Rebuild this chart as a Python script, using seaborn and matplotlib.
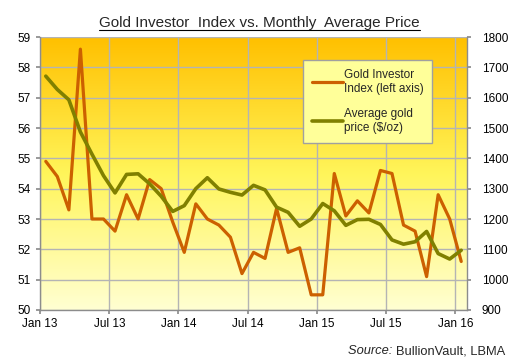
import numpy as np
import pandas as pd
import matplotlib
matplotlib.use("Agg")
import matplotlib.pyplot as plt
import seaborn as sns
from matplotlib.colors import LinearSegmentedColormap
from matplotlib.lines import Line2D

# Monthly data, Jan 2013 .. Jan 2016
investor_index = [54.9, 54.4, 53.3, 58.6, 53.0, 53.0, 52.6, 53.8, 53.0, 54.3, 54.0, 52.9,
                  51.9, 53.5, 53.0, 52.8, 52.4, 51.2, 51.9, 51.7, 53.35, 51.9, 52.05, 50.5,
                  50.5, 54.5, 53.1, 53.6, 53.2, 54.6, 54.5, 52.8, 52.6, 51.1, 53.8, 53.0, 51.6]
gold_price = [1671, 1627, 1593, 1487, 1414, 1343, 1286, 1347, 1349, 1316, 1275, 1225,
              1244, 1300, 1336, 1299, 1288, 1279, 1311, 1296, 1239, 1222, 1176, 1200,
              1251, 1227, 1179, 1198, 1199, 1182, 1131, 1117, 1125, 1159, 1086, 1068, 1097]
tick_labels = ["Jan 13", "Jul 13", "Jan 14", "Jul 14", "Jan 15", "Jul 15", "Jan 16"]
legend_labels = ["Gold Investor\nIndex (left axis)", "Average gold\nprice ($/oz)"]

orange = "#CC6000"
olive = "#808000"
grey = "#8C8C8C"

df = pd.DataFrame({"month": np.arange(len(investor_index)) + 0.5,
                   "index": investor_index,
                   "price": gold_price})

sns.set_theme(style="white")
plt.rcParams["font.family"] = ["Liberation Sans", "DejaVu Sans"]

fig = plt.figure(figsize=(5.11, 3.59), dpi=100)
ax = fig.add_axes([0.0783, 0.1365, 0.8356, 0.7604])

# gradient background, gold at top fading to pale yellow
cmap = LinearSegmentedColormap.from_list(
    "bg", [(0, "#FFFFD2"), (0.5, "#FFF55A"), (1, "#FFC000")])
grad = np.linspace(0, 1, 256).reshape(-1, 1)
ax.imshow(grad, cmap=cmap, aspect="auto", origin="lower",
          extent=[0, 37, 50, 59], zorder=0)

sns.lineplot(data=df, x="month", y="index", ax=ax, color=orange, linewidth=2.3)
ax.set_xlim(0, 37)
ax.set_ylim(50, 59)
ax.set_xticks(range(0, 37, 6))
ax.set_xticklabels(tick_labels)
ax.set_yticks(range(50, 60))
ax.set_xlabel("")
ax.set_ylabel("")
ax.set_axisbelow(True)
ax.grid(True, color="#B4B4B4", linewidth=1)

ax2 = ax.twinx()
sns.lineplot(data=df, x="month", y="price", ax=ax2, color=olive, linewidth=2.6)
ax2.set_ylim(900, 1800)
ax2.set_yticks(range(900, 1801, 100))
ax2.set_ylabel("")
ax2.grid(False)

ax.spines["top"].set_visible(False)
ax2.spines["top"].set_visible(False)
ax.spines["right"].set_visible(False)
ax2.spines["left"].set_visible(False)
ax2.spines["bottom"].set_visible(False)
for sp in [ax.spines["left"], ax.spines["bottom"], ax2.spines["right"]]:
    sp.set_color(grey)
    sp.set_linewidth(1)

ax.tick_params(axis="x", bottom=True, direction="out", length=3, color=grey,
               labelsize=8.5, labelcolor="black", pad=3)
ax.tick_params(axis="y", left=True, direction="out", length=3, color=grey,
               labelsize=8.5, labelcolor="black", pad=4)
ax2.tick_params(axis="y", right=True, direction="out", length=3, color=grey,
                labelsize=8.5, labelcolor="black", pad=7.5)

handles = [Line2D([0], [0], color=orange, lw=2.3), Line2D([0], [0], color=olive, lw=2.6)]
leg = ax2.legend(handles, legend_labels, loc="upper left", bbox_to_anchor=(0.616, 0.916),
                 borderaxespad=0, fontsize=8.5, frameon=True, fancybox=False, framealpha=1,
                 facecolor="#FFFF99", edgecolor="#A0A0A0", handlelength=2.6,
                 handletextpad=0.1, labelspacing=1.15, borderpad=0.75)
leg.get_frame().set_linewidth(1)

# underlined title
title = fig.text(0.508, 1 - 27 / 359, "Gold Investor  Index vs. Monthly  Average Price",
                 ha="center", va="baseline", fontsize=11)
src = fig.text(505 / 511, 1 - 354 / 359, "BullionVault, LBMA",
               ha="right", va="baseline", fontsize=9.3)
fig.canvas.draw()
r = fig.canvas.get_renderer()
tb = title.get_window_extent(r)
W, H = fig.bbox.width, fig.bbox.height
uy = 1 - 29.5 / 359
fig.add_artist(Line2D([tb.x0 / W, tb.x1 / W], [uy, uy], color="black", lw=0.8))
sb = src.get_window_extent(r)
fig.text(sb.x0 / W, 1 - 354 / 359, "Source: ", ha="right", va="baseline",
         fontsize=9.3, style="italic")

fig.savefig("out.png", dpi=100)
